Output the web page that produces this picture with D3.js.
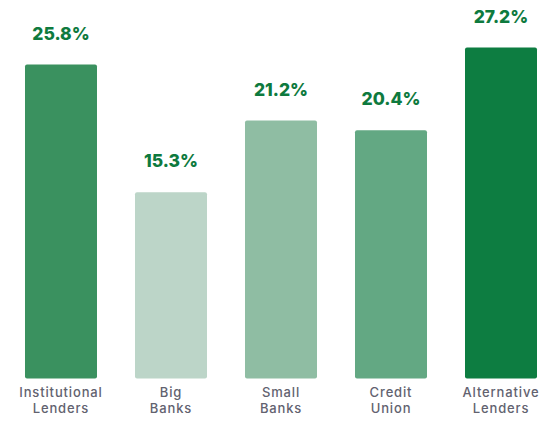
<!DOCTYPE html>
<html><head><meta charset="utf-8">
<script src="https://cdn.jsdelivr.net/npm/d3@7"></script>
<style>body{margin:0;background:#fff}svg{display:block}</style>
</head><body>
<svg id="c" width="554" height="423"></svg>
<script>
const categories = ["Institutional\nLenders", "Big\nBanks", "Small\nBanks", "Credit\nUnion", "Alternative\nLenders"];
const values = [25.8, 15.3, 21.2, 20.4, 27.2];
const colors = ["#3a915f", "#bcd5c8", "#8fbda3", "#63a883", "#0d7d41"];

const W = 554, H = 423;
const svg = d3.select("#c");
const x = d3.scaleBand().domain(categories).range([6, 556]).paddingInner(0.3455).paddingOuter(0.1727);
const baseY = 378.5;
const y = d3.scaleLinear().domain([0, 27.2]).range([baseY, 47.5]);

svg.selectAll("path.bar").data(values).join("path")
  .attr("class", "bar")
  .attr("fill", (d, i) => colors[i])
  .attr("d", (d, i) => {
    const x0 = x(categories[i]), w = x.bandwidth(), y0 = y(d), h = baseY - y0, r = 2;
    const p = d3.path();
    p.moveTo(x0 + r, y0); p.lineTo(x0 + w - r, y0); p.quadraticCurveTo(x0 + w, y0, x0 + w, y0 + r);
    p.lineTo(x0 + w, y0 + h - r); p.quadraticCurveTo(x0 + w, y0 + h, x0 + w - r, y0 + h);
    p.lineTo(x0 + r, y0 + h); p.quadraticCurveTo(x0, y0 + h, x0, y0 + h - r);
    p.lineTo(x0, y0 + r); p.quadraticCurveTo(x0, y0, x0 + r, y0); p.closePath();
    return p.toString();
  });

svg.selectAll("text.val").data(values).join("text")
  .attr("class", "val")
  .attr("x", (d, i) => x(categories[i]) + x.bandwidth() / 2)
  .attr("y", d => y(d) - 25)
  .attr("text-anchor", "middle")
  .attr("font-family", "Inter, 'Open Sans', sans-serif")
  .attr("font-weight", 800)
  .attr("font-size", 17.5)
  .attr("fill", "#0e7a3e")
  .text(d => d.toFixed(1) + "%");

const axis = d3.axisBottom(x).tickSize(0).tickPadding(0);
const g = svg.append("g").attr("transform", `translate(0,${baseY})`).call(axis);
g.select(".domain").remove();
g.selectAll(".tick text").each(function(d) {
  const t = d3.select(this);
  t.text(null).attr("y", 0).attr("dy", null)
   .attr("font-family", "Inter, 'Open Sans', sans-serif")
   .attr("font-weight", 500)
   .attr("letter-spacing", 0.85)
   .attr("font-size", 13)
   .attr("fill", "#62626f");
  d.split("\n").forEach((line, k) => {
    t.append("tspan").attr("x", 0).attr("y", 18 + k * 16).text(line);
  });
});
</script>
</body></html>
